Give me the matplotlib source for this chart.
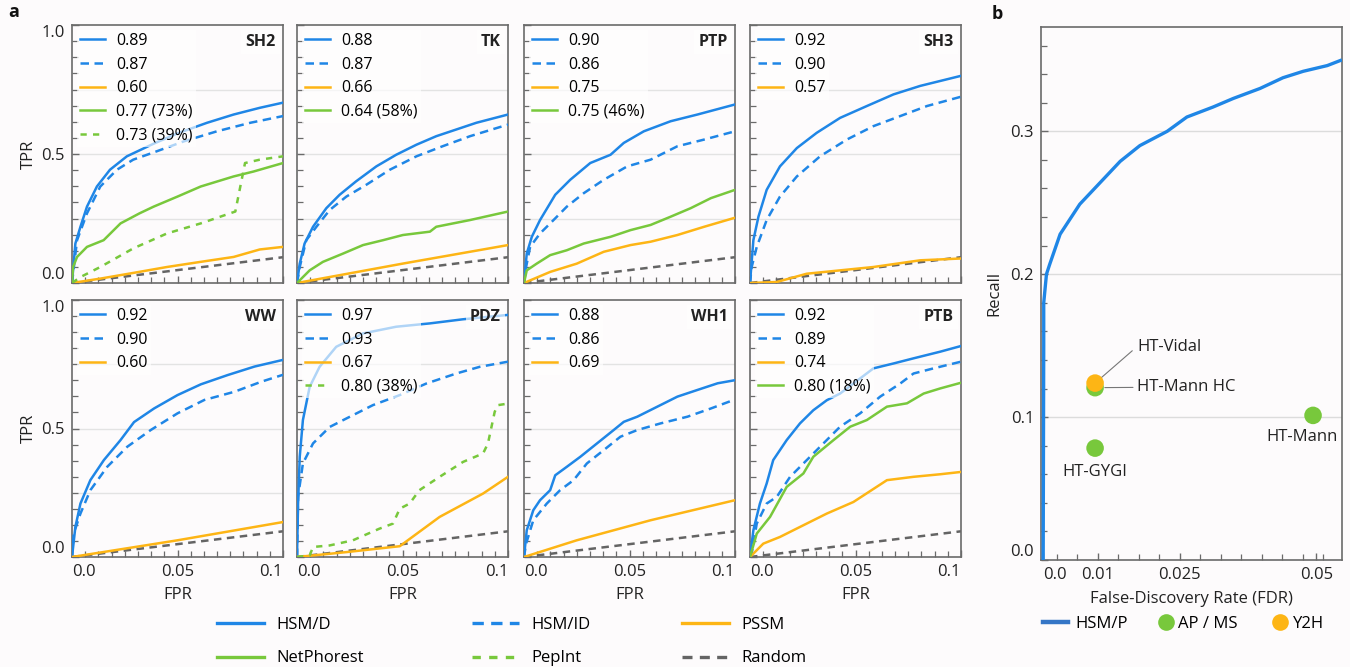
import matplotlib
matplotlib.use('Agg')
import matplotlib.pyplot as plt
from matplotlib.lines import Line2D
from matplotlib.ticker import MultipleLocator, FixedLocator

plt.rcParams['font.family'] = ['Open Sans', 'DejaVu Sans']

BLUE = '#1f86e6'
BLUE_DARK = '#3576c6'
ORANGE = '#fdb515'
GREEN = '#78c83c'
GRAY = '#646464'
BG = '#fdfbfc'

# ---------------- data: panel a (ROC, FPR vs TPR) ----------------
PANELS = ['SH2', 'TK', 'PTP', 'SH3', 'WW', 'PDZ', 'WH1', 'PTB']
RANDOM_FPR = [0.0, 0.1]
RANDOM_TPR = [0.0, 0.1]

# SH2
SH2_HSMD_FPR = [0, 0.0016, 0.004, 0.0071, 0.0118, 0.018, 0.026, 0.0387, 0.05, 0.064, 0.0766, 0.089, 0.1]
SH2_HSMD_TPR = [0, 0.153, 0.218, 0.296, 0.374, 0.439, 0.491, 0.540, 0.580, 0.621, 0.653, 0.679, 0.699]
SH2_HSMID_FPR = [0, 0.0024, 0.0071, 0.0134, 0.0213, 0.029, 0.040, 0.053, 0.0687, 0.0845, 0.1]
SH2_HSMID_TPR = [0, 0.166, 0.270, 0.374, 0.439, 0.478, 0.510, 0.549, 0.588, 0.621, 0.647]
SH2_PSSM_FPR = [0, 0.0134, 0.029, 0.045, 0.061, 0.0766, 0.089, 0.1]
SH2_PSSM_TPR = [0, 0.017, 0.039, 0.062, 0.082, 0.101, 0.130, 0.140]
SH2_NETP_FPR = [0, 0.0005, 0.0024, 0.0071, 0.015, 0.023, 0.032, 0.0387, 0.05, 0.061, 0.0766, 0.086, 0.1]
SH2_NETP_TPR = [0, 0.062, 0.101, 0.140, 0.166, 0.231, 0.270, 0.296, 0.335, 0.374, 0.413, 0.432, 0.465]
SH2_PEP_FPR = [0, 0.004, 0.0134, 0.029, 0.045, 0.061, 0.0774, 0.082, 0.089, 0.1]
SH2_PEP_TPR = [0, 0.023, 0.062, 0.134, 0.192, 0.231, 0.277, 0.465, 0.478, 0.491]

# TK
TK_HSMD_FPR = [0, 0.0013, 0.0036, 0.0076, 0.0139, 0.0202, 0.028, 0.0376, 0.047, 0.0566, 0.066, 0.0755, 0.085, 0.1]
TK_HSMD_TPR = [0, 0.075, 0.153, 0.218, 0.290, 0.342, 0.394, 0.452, 0.497, 0.536, 0.569, 0.595, 0.621, 0.653]
TK_HSMID_FPR = [0, 0.0013, 0.0044, 0.0092, 0.0155, 0.0234, 0.0329, 0.044, 0.0566, 0.069, 0.082, 0.1]
TK_HSMID_TPR = [0, 0.062, 0.166, 0.218, 0.283, 0.335, 0.381, 0.439, 0.491, 0.530, 0.569, 0.614]
TK_PSSM_FPR = [0, 0.05, 0.1]
TK_PSSM_TPR = [0, 0.075, 0.147]
TK_NETP_FPR = [0, 0.006, 0.0123, 0.0218, 0.0313, 0.0408, 0.0502, 0.063, 0.066, 0.082, 0.1]
TK_NETP_TPR = [0, 0.049, 0.082, 0.114, 0.147, 0.166, 0.186, 0.199, 0.218, 0.244, 0.277]

# PTP
PTP_HSMD_FPR = [0, 0.0013, 0.0037, 0.0076, 0.0148, 0.0219, 0.0314, 0.041, 0.0473, 0.0568, 0.0695, 0.0822, 0.1]
PTP_HSMD_TPR = [0, 0.114, 0.179, 0.244, 0.342, 0.400, 0.465, 0.497, 0.543, 0.588, 0.627, 0.653, 0.692]
PTP_HSMID_FPR = [0, 0.001, 0.0029, 0.0076, 0.014, 0.0203, 0.0283, 0.0378, 0.0489, 0.06, 0.0727, 0.0854, 0.1]
PTP_HSMID_TPR = [0, 0.062, 0.140, 0.192, 0.244, 0.296, 0.348, 0.400, 0.452, 0.478, 0.530, 0.556, 0.588]
PTP_PSSM_FPR = [0, 0.0124, 0.025, 0.0378, 0.0505, 0.06, 0.0727, 0.0854, 0.1]
PTP_PSSM_TPR = [0, 0.043, 0.075, 0.121, 0.147, 0.160, 0.186, 0.218, 0.253]
PTP_NETP_FPR = [0, 0.0013, 0.006, 0.0124, 0.0203, 0.0283, 0.041, 0.0505, 0.06, 0.0695, 0.079, 0.0886, 0.1]
PTP_NETP_TPR = [0, 0.049, 0.075, 0.108, 0.127, 0.153, 0.179, 0.205, 0.225, 0.257, 0.290, 0.329, 0.361]

# SH3
SH3_HSMD_FPR = [0, 0.0016, 0.004, 0.0079, 0.0142, 0.0222, 0.0316, 0.0427, 0.0554, 0.068, 0.0807, 0.1]
SH3_HSMD_TPR = [0, 0.166, 0.257, 0.361, 0.452, 0.523, 0.582, 0.640, 0.686, 0.731, 0.764, 0.803]
SH3_HSMID_FPR = [0, 0.0008, 0.0032, 0.0079, 0.0142, 0.0222, 0.0332, 0.0459, 0.0585, 0.0712, 0.0839, 0.1]
SH3_HSMID_TPR = [0, 0.062, 0.140, 0.244, 0.335, 0.413, 0.491, 0.556, 0.608, 0.647, 0.686, 0.722]
SH3_PSSM_FPR = [0, 0.0127, 0.0269, 0.0427, 0.0585, 0.0807, 0.1]
SH3_PSSM_TPR = [0, 0.004, 0.036, 0.049, 0.062, 0.088, 0.095]

# WW
WW_HSMD_FPR = [0, 0.0016, 0.004, 0.0087, 0.0151, 0.023, 0.0294, 0.0389, 0.05, 0.0611, 0.0738, 0.0865, 0.1]
WW_HSMD_TPR = [0, 0.117, 0.208, 0.299, 0.377, 0.455, 0.525, 0.578, 0.630, 0.672, 0.708, 0.741, 0.767]
WW_HSMID_FPR = [0, 0.0008, 0.004, 0.0087, 0.0167, 0.0262, 0.0373, 0.05, 0.0627, 0.077, 0.0897, 0.1]
WW_HSMID_TPR = [0, 0.091, 0.169, 0.260, 0.351, 0.429, 0.494, 0.559, 0.611, 0.643, 0.682, 0.709]
WW_PSSM_FPR = [0, 0.05, 0.1]
WW_PSSM_TPR = [0, 0.065, 0.136]

# PDZ
PDZ_HSMD_FPR = [0, 0.0005, 0.0013, 0.0028, 0.006, 0.0107, 0.0186, 0.0313, 0.047, 0.063, 0.0787, 0.1]
PDZ_HSMD_TPR = [0, 0.208, 0.390, 0.533, 0.662, 0.740, 0.818, 0.870, 0.896, 0.909, 0.925, 0.942]
PDZ_HSMID_FPR = [0, 0.0005, 0.0028, 0.0076, 0.0155, 0.0234, 0.036, 0.0487, 0.0613, 0.0755, 0.0866, 0.1]
PDZ_HSMID_TPR = [0, 0.234, 0.364, 0.442, 0.506, 0.539, 0.591, 0.630, 0.675, 0.714, 0.740, 0.760]
PDZ_PSSM_FPR = [0, 0.0234, 0.0487, 0.0676, 0.0882, 0.1]
PDZ_PSSM_TPR = [0, 0.019, 0.042, 0.156, 0.247, 0.312]
PDZ_PEP_FPR = [0, 0.006, 0.0076, 0.0155, 0.0265, 0.039, 0.0455, 0.0487, 0.0534, 0.058, 0.0676, 0.0787, 0.0882, 0.0905, 0.0937, 0.0953, 0.1]
PDZ_PEP_TPR = [0, 0.006, 0.039, 0.045, 0.065, 0.110, 0.130, 0.188, 0.208, 0.260, 0.312, 0.370, 0.403, 0.442, 0.565, 0.591, 0.597]

# WH1
WH1_HSMD_FPR = [0, 0.0013, 0.0044, 0.0076, 0.0124, 0.0148, 0.0203, 0.0267, 0.0346, 0.0425, 0.0473, 0.0537, 0.0632, 0.0727, 0.0822, 0.0918, 0.1]
WH1_HSMD_TPR = [0, 0.104, 0.182, 0.221, 0.260, 0.318, 0.351, 0.390, 0.442, 0.494, 0.526, 0.546, 0.585, 0.624, 0.650, 0.676, 0.688]
WH1_HSMID_FPR = [0, 0.001, 0.0044, 0.0108, 0.0171, 0.0235, 0.0298, 0.0378, 0.0457, 0.0537, 0.0648, 0.0775, 0.0886, 0.1]
WH1_HSMID_TPR = [0, 0.052, 0.143, 0.208, 0.260, 0.299, 0.364, 0.416, 0.468, 0.494, 0.520, 0.546, 0.578, 0.613]
WH1_PSSM_FPR = [0, 0.025, 0.06, 0.1]
WH1_PSSM_TPR = [0, 0.065, 0.143, 0.221]

# PTB
PTB_HSMD_FPR = [0, 0.0016, 0.0047, 0.0079, 0.011, 0.0174, 0.0237, 0.03, 0.0364, 0.0427, 0.049, 0.0585, 0.068, 0.0775, 0.0902, 0.1]
PTB_HSMD_TPR = [0, 0.104, 0.208, 0.286, 0.377, 0.455, 0.520, 0.571, 0.610, 0.636, 0.675, 0.734, 0.753, 0.773, 0.799, 0.821]
PTB_HSMID_FPR = [0, 0.0008, 0.0032, 0.0079, 0.0127, 0.019, 0.0269, 0.0348, 0.0427, 0.0522, 0.0617, 0.0712, 0.0775, 0.087, 0.1]
PTB_HSMID_TPR = [0, 0.013, 0.130, 0.208, 0.234, 0.312, 0.377, 0.442, 0.507, 0.559, 0.624, 0.675, 0.714, 0.734, 0.760]
PTB_PSSM_FPR = [0, 0.0063, 0.0142, 0.0237, 0.0364, 0.049, 0.0649, 0.0775, 0.0902, 0.1]
PTB_PSSM_TPR = [0, 0.052, 0.078, 0.117, 0.169, 0.214, 0.299, 0.312, 0.322, 0.331]
PTB_NETP_FPR = [0, 0.0032, 0.0095, 0.0174, 0.0253, 0.03, 0.0396, 0.0475, 0.0554, 0.0649, 0.0744, 0.0823, 0.0902, 0.1]
PTB_NETP_TPR = [0, 0.091, 0.156, 0.273, 0.325, 0.390, 0.455, 0.507, 0.533, 0.585, 0.598, 0.636, 0.656, 0.678]

# AUC legend labels per panel (order: HSM/D, HSM/ID, PSSM, NetPhorest/PepInt)
SH2_LABELS = ['0.89', '0.87', '0.60', '0.77 (73%)', '0.73 (39%)']
TK_LABELS = ['0.88', '0.87', '0.66', '0.64 (58%)']
PTP_LABELS = ['0.90', '0.86', '0.75', '0.75 (46%)']
SH3_LABELS = ['0.92', '0.90', '0.57']
WW_LABELS = ['0.92', '0.90', '0.60']
PDZ_LABELS = ['0.97', '0.93', '0.67', '0.80 (38%)']
WH1_LABELS = ['0.88', '0.86', '0.69']
PTB_LABELS = ['0.92', '0.89', '0.74', '0.80 (18%)']

# ---------------- data: panel b (precision-recall) ----------------
HSMP_FDR = [0.0, 0.0001, 0.0001, 0.0006, 0.0012, 0.0031, 0.0067, 0.0104, 0.0141, 0.0177, 0.0227,
            0.0263, 0.0311, 0.0348, 0.0397, 0.0439, 0.0476, 0.0520, 0.0547]
HSMP_RECALL = [0.0, 0.15, 0.18, 0.200, 0.207, 0.228, 0.249, 0.264, 0.279, 0.290, 0.300,
               0.310, 0.317, 0.323, 0.330, 0.3375, 0.342, 0.346, 0.350]
APMS_NAMES = ['HT-Mann HC', 'HT-GYGI', 'HT-Mann']
APMS_FDR = [0.0095, 0.0095, 0.0494]
APMS_RECALL = [0.1206, 0.0783, 0.1012]
Y2H_NAMES = ['HT-Vidal']
Y2H_FDR = [0.0095]
Y2H_RECALL = [0.1238]

STYLE = {
    'HSM/D': dict(color=BLUE, ls='-', lw=1.8),
    'HSM/ID': dict(color=BLUE, ls=(0, (3.4, 2.2)), lw=1.8),
    'PSSM': dict(color=ORANGE, ls='-', lw=1.8),
    'NetPhorest': dict(color=GREEN, ls='-', lw=1.8),
    'PepInt': dict(color=GREEN, ls=(0, (2.5, 2.5)), lw=1.8),
    'Random': dict(color=GRAY, ls=(0, (3, 2.2)), lw=1.8),
}

g = globals()
SERIES = {}
for p in PANELS:
    labs = g[p + '_LABELS']
    entries = [('HSM/D', g[p + '_HSMD_FPR'], g[p + '_HSMD_TPR']),
               ('HSM/ID', g[p + '_HSMID_FPR'], g[p + '_HSMID_TPR']),
               ('PSSM', g[p + '_PSSM_FPR'], g[p + '_PSSM_TPR'])]
    if p + '_NETP_FPR' in g:
        entries.append(('NetPhorest', g[p + '_NETP_FPR'], g[p + '_NETP_TPR']))
    if p + '_PEP_FPR' in g:
        entries.append(('PepInt', g[p + '_PEP_FPR'], g[p + '_PEP_TPR']))
    SERIES[p] = [(k, x, y, l) for (k, x, y), l in zip(entries, labs)]

W, H = 1350, 667
fig = plt.figure(figsize=(W / 100, H / 100), dpi=100, facecolor=BG)

def fx(px):
    return px / W

def fy(py):
    return 1 - py / H

col_left = [72, 297, 524, 750]
row_top = [25, 300]
row_bot = [283, 557]
pw = 211

SPINE = '#6a6a6a'
TXT = '#222222'

for i, p in enumerate(PANELS):
    r, c = divmod(i, 4)
    ax = fig.add_axes([fx(col_left[c]), fy(row_bot[r]), fx(pw), (row_bot[r] - row_top[r]) / H])
    ax.set_facecolor(BG)
    ax.set_xlim(0, 0.1)
    ax.set_ylim(0, 1.0)
    for yg in [0.25, 0.5, 0.75]:
        ax.axhline(yg, color='#e3e3e3', lw=1.0, zorder=0)
    ax.plot(RANDOM_FPR, RANDOM_TPR, **STYLE['Random'], zorder=2)
    handles = []
    for key, x, y, lab in SERIES[p]:
        ln, = ax.plot(x, y, **STYLE[key], label=lab, zorder=3)
        handles.append(ln)
    leg = ax.legend(handles=handles, loc='upper left', bbox_to_anchor=(0.0, 1.0),
                    fontsize=11.5, frameon=True, framealpha=0.65, facecolor='white',
                    edgecolor='none', fancybox=False, handlelength=1.55, handletextpad=0.7,
                    labelspacing=0.48, borderpad=0.2, borderaxespad=0.3)
    leg.set_zorder(5)
    ax.text(0.965, 0.934, p, transform=ax.transAxes, ha='right', va='center',
            fontsize=11.5, fontweight='bold', color=TXT, zorder=6,
            bbox=dict(boxstyle='square,pad=0.25', fc='white', ec='none', alpha=0.65))
    for s in ax.spines.values():
        s.set_color(SPINE)
        s.set_linewidth(1.2)
    ax.set_xticks([0, 0.05, 0.1])
    ax.set_yticks([0, 0.5, 1.0])
    ax.xaxis.set_minor_locator(MultipleLocator(0.00625))
    ax.yaxis.set_minor_locator(MultipleLocator(0.0625))
    ax.tick_params(which='both', direction='in', color=SPINE, top=False, right=False,
                   labelsize=12, labelcolor=TXT)
    ax.tick_params(which='major', length=5, width=1.0, pad=5)
    ax.tick_params(which='minor', length=4, width=0.9)
    if r == 1:
        ax.set_xticklabels(['0.0', '0.05', '0.1'])
        tl = ax.get_xticklabels()
        tl[0].set_ha('left')
        tl[-1].set_ha('right')
        ax.set_xlabel('FPR', fontsize=12, color=TXT, labelpad=5)
    else:
        ax.set_xticklabels([])
    if c == 0:
        ax.set_yticklabels(['0.0', '0.5', '1.0'])
        tl = ax.get_yticklabels()
        tl[0].set_va('bottom')
        tl[-1].set_va('top')
        ax.set_ylabel('TPR', fontsize=12, color=TXT, labelpad=3)
    else:
        ax.set_yticklabels([])

# bottom legend for panel a (three columns)
leg_cols = [(217, ['HSM/D', 'NetPhorest']), (472, ['HSM/ID', 'PepInt']), (682, ['PSSM', 'Random'])]
for x0, keys in leg_cols:
    hs = [Line2D([], [], **STYLE[k]) for k in keys]
    for h in hs:
        h.set_linewidth(2.4)
    fig.legend(handles=hs, labels=keys, loc='upper left',
               bbox_to_anchor=(fx(x0), fy(617)), frameon=False, fontsize=12,
               handlelength=2.8, handletextpad=0.75, labelspacing=1.05, borderpad=0.0,
               borderaxespad=0.0)

# ---------------- panel b ----------------
axb = fig.add_axes([fx(1041), fy(560), fx(301), (560 - 27) / H])
axb.set_facecolor(BG)
axb.set_xlim(-0.0004, 0.0547)
axb.set_ylim(0, 0.373)
for yg in [0.1, 0.2, 0.3]:
    axb.axhline(yg, color='#dcdcdc', lw=1.0, zorder=0)
axb.plot(HSMP_FDR, HSMP_RECALL, color=BLUE, lw=2.4, zorder=3, solid_capstyle='butt')
axb.scatter(APMS_FDR, APMS_RECALL, s=160, color=GREEN, edgecolor='none', zorder=4)
axb.scatter(Y2H_FDR, Y2H_RECALL, s=160, color='#fdb515', edgecolor='none', zorder=5)

ann_kw = dict(fontsize=12, color=TXT, textcoords='data')
axb.annotate(Y2H_NAMES[0], xy=(Y2H_FDR[0], Y2H_RECALL[0]), xytext=(0.0172, 0.1494),
             ha='left', va='center',
             arrowprops=dict(arrowstyle='-', color='#777777', lw=0.8, shrinkA=2, shrinkB=6,
                             relpos=(0, 0.5)), **ann_kw)
axb.annotate(APMS_NAMES[0], xy=(APMS_FDR[0], APMS_RECALL[0]), xytext=(0.0172, 0.1208),
             ha='left', va='center',
             arrowprops=dict(arrowstyle='-', color='#777777', lw=0.8, shrinkA=1, shrinkB=7,
                             relpos=(0, 0.5)), **ann_kw)
axb.text(0.0473, 0.0858, APMS_NAMES[2], ha='center', va='center', fontsize=12, color=TXT)
axb.text(0.0095, 0.0613, APMS_NAMES[1], ha='center', va='center', fontsize=12, color=TXT)

for s in axb.spines.values():
    s.set_color(SPINE)
    s.set_linewidth(1.2)
axb.set_xticks([0, 0.01, 0.025, 0.05])
axb.set_xticklabels(['0.0', '0.01', '0.025', '0.05'])
axb.get_xticklabels()[0].set_ha('left')
axb.xaxis.set_minor_locator(FixedLocator([0.01 + 0.00375 * k for k in range(-2, 12)]))
axb.set_yticks([0, 0.1, 0.2, 0.3])
axb.set_yticklabels(['0.0', '0.1', '0.2', '0.3'])
axb.get_yticklabels()[0].set_va('bottom')
axb.yaxis.set_minor_locator(MultipleLocator(0.02))
axb.tick_params(which='both', direction='in', color=SPINE, labelsize=12, labelcolor=TXT)
axb.tick_params(which='major', length=5, width=1.0, pad=5)
axb.tick_params(which='minor', length=4, width=0.9)
axb.set_xlabel('False-Discovery Rate (FDR)', fontsize=12, color=TXT, labelpad=6)
axb.set_ylabel('Recall', fontsize=12, color=TXT, labelpad=6)

# legend panel b
hb = [Line2D([], [], color=BLUE_DARK, lw=3.2),
      Line2D([], [], ls='none', marker='o', ms=12, color=GREEN, mec='none'),
      Line2D([], [], ls='none', marker='o', ms=12, color='#fdb515', mec='none')]
lb = ['HSM/P', 'AP / MS', 'Y2H']
xb = [1043, 1160, 1274]
hl = [1.5, 0.66, 0.66]
for h, l, x0, L in zip(hb, lb, xb, hl):
    fig.legend(handles=[h], labels=[l], loc='upper left', bbox_to_anchor=(fx(x0), fy(616)),
               frameon=False, fontsize=12, handlelength=L, handletextpad=0.45,
               borderpad=0.0, borderaxespad=0.0)

fig.text(fx(14), fy(12), 'a', fontsize=13, fontweight='bold', ha='center', va='center', color='#111111')
fig.text(fx(997), fy(14), 'b', fontsize=13, fontweight='bold', ha='center', va='center', color='#111111')

fig.savefig('out.png', dpi=100, facecolor=BG)
